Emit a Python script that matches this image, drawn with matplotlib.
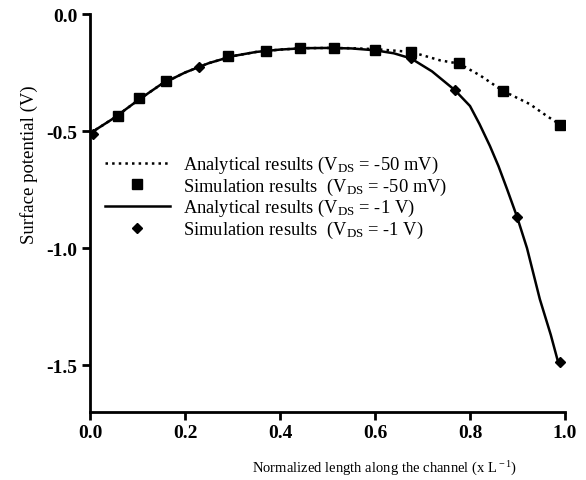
import matplotlib
matplotlib.use('Agg')
import matplotlib.pyplot as plt

# simulation results, V_DS = -50 mV (squares)
sim50_x = [0.059, 0.104, 0.161, 0.290, 0.370, 0.442, 0.514, 0.600, 0.676, 0.777, 0.869, 0.990]
sim50_y = [-0.436, -0.360, -0.285, -0.180, -0.157, -0.146, -0.145, -0.153, -0.162, -0.209, -0.328, -0.474]

# simulation results, V_DS = -1 V (diamonds)
sim1_x = [0.007, 0.230, 0.600, 0.676, 0.768, 0.899, 0.989]
sim1_y = [-0.513, -0.227, -0.153, -0.190, -0.325, -0.868, -1.487]

# analytical curve, V_DS = -1 V
ana1_x = [0.0, 0.05, 0.10, 0.15, 0.20, 0.25, 0.30, 0.35, 0.40, 0.45, 0.50, 0.55, 0.60,
          0.64, 0.676, 0.72, 0.768, 0.80, 0.82, 0.842, 0.86, 0.878, 0.899, 0.92, 0.947,
          0.97, 0.985]
ana1_y = [-0.510, -0.445, -0.370, -0.300, -0.250, -0.210, -0.180, -0.162, -0.152, -0.146,
          -0.145, -0.147, -0.155, -0.168, -0.190, -0.245, -0.325, -0.393, -0.470, -0.564,
          -0.650, -0.748, -0.866, -1.000, -1.218, -1.370, -1.483]

# analytical curve, V_DS = -50 mV (dotted, only visible where it leaves the solid one)
ana50_x = [0.0, 0.05, 0.10, 0.15, 0.20, 0.25, 0.30, 0.35, 0.40, 0.45, 0.50, 0.55, 0.60,
           0.676, 0.737, 0.777, 0.821, 0.869, 0.926, 0.962, 0.994]
ana50_y = [-0.510, -0.445, -0.370, -0.300, -0.250, -0.210, -0.180, -0.162, -0.152, -0.146,
           -0.145, -0.146, -0.150, -0.162, -0.198, -0.212, -0.262, -0.328, -0.385, -0.436,
           -0.478]

plt.rcParams['font.family'] = ['Liberation Serif', 'DejaVu Serif']
plt.rcParams['mathtext.fontset'] = 'custom'
plt.rcParams['mathtext.rm'] = 'Liberation Serif'
plt.rcParams['mathtext.it'] = 'Liberation Serif:italic'
plt.rcParams['mathtext.bf'] = 'Liberation Serif:bold'

fig = plt.figure(figsize=(5.86, 4.81), dpi=100)
ax = fig.add_axes([90 / 586, 1 - 413 / 481, 475 / 586, 398 / 481])

ax.plot(ana50_x, ana50_y, ':', color='black', lw=1.8,
        label='Analytical results (V$_{\\rm DS}$ = -50 mV)')
ax.plot(sim50_x, sim50_y, 's', color='black', ms=7.8, ls='none',
        label='Simulation results  (V$_{\\rm DS}$ = -50 mV)')
ax.plot(ana1_x, ana1_y, '-', color='black', lw=1.8,
        label='Analytical results (V$_{\\rm DS}$ = -1 V)')
ax.plot(sim1_x, sim1_y, 'D', color='black', ms=5.5, ls='none',
        label='Simulation results  (V$_{\\rm DS}$ = -1 V)')

ax.set_xlim(0, 1.0)
ax.set_ylim(-1.7, 0)
ax.set_xticks([0.0, 0.2, 0.4, 0.6, 0.8, 1.0])
ax.set_yticks([0.0, -0.5, -1.0, -1.5])
ax.xaxis.set_major_formatter(matplotlib.ticker.FormatStrFormatter('%.1f'))
ax.yaxis.set_major_formatter(matplotlib.ticker.FormatStrFormatter('%.1f'))

for s in ['top', 'right']:
    ax.spines[s].set_visible(False)
for s in ['left', 'bottom']:
    ax.spines[s].set_linewidth(2)
ax.tick_params(direction='out', length=6, width=2, pad=3, labelsize=14)
for lab in ax.get_xticklabels() + ax.get_yticklabels():
    lab.set_fontweight('bold')

ax.set_xlabel('Normalized length along the channel (x L$^{\\rm -1}$)', fontsize=10.5)
ax.xaxis.set_label_coords(0.62, -0.118)
ax.set_ylabel('Surface potential (V)', fontsize=13.5)
ax.yaxis.set_label_coords(-0.11, 0.625)

ax.legend(loc='upper left', bbox_to_anchor=(15 / 475, 1 - 140 / 398), frameon=False,
          fontsize=13.3, handlelength=3.5, handletextpad=0.7, labelspacing=0.03,
          borderpad=0, borderaxespad=0)

fig.savefig('out.png', dpi=100)
